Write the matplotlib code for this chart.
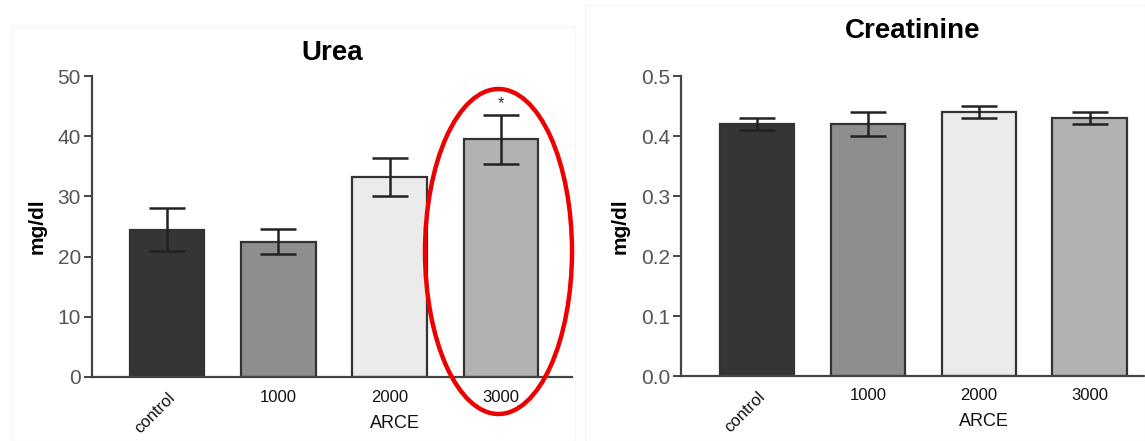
import matplotlib
matplotlib.use("Agg")
import matplotlib.pyplot as plt
from matplotlib.patches import Ellipse, Rectangle
import matplotlib.transforms as mtransforms

plt.rcParams['font.family'] = ['Liberation Sans', 'DejaVu Sans']

categories = ["control", "1000", "2000", "3000"]
group_label = "ARCE"
bar_colors = ["#353535", "#8e8e8e", "#ebebeb", "#b2b2b2"]

urea_mean = [24.5, 22.5, 33.2, 39.5]
urea_err = [3.5, 2.1, 3.1, 4.1]
urea_ticks = [0, 10, 20, 30, 40, 50]
urea_sig = ["", "", "", "*"]

creat_mean = [0.42, 0.42, 0.44, 0.43]
creat_err = [0.01, 0.02, 0.01, 0.01]
creat_ticks = [0.0, 0.1, 0.2, 0.3, 0.4, 0.5]

W, H = 1145, 441
fig = plt.figure(figsize=(W / 100, H / 100), dpi=100)

# faint panel frames
fig.add_artist(Rectangle((12 / W, 0), (575 - 12) / W, (H - 27) / H, transform=fig.transFigure,
                         fill=False, edgecolor="#f5f5f5", lw=1.0))
fig.add_artist(Rectangle((585 / W, 0), (W - 585) / W, (H - 5) / H, transform=fig.transFigure,
                         fill=False, edgecolor="#f5f5f5", lw=1.0))

def panel(rect, means, errs, ticks, ylim, title, title_y, xlim, fmt, sig=None):
    ax = fig.add_axes(rect)
    x = list(range(len(categories)))
    ax.bar(x, means, width=0.67, color=bar_colors, edgecolor="#333333", linewidth=1.6, zorder=2)
    ax.errorbar(x, means, yerr=errs, fmt="none", ecolor="#222222", elinewidth=1.8,
                capsize=13, capthick=1.8, zorder=3)
    ax.set_xlim(*xlim)
    ax.set_ylim(*ylim)
    ax.set_yticks(ticks)
    ax.set_yticklabels([fmt.format(t) for t in ticks])
    ax.set_xticks(x)
    ax.set_xticklabels(categories)
    for spine in ["top", "right"]:
        ax.spines[spine].set_visible(False)
    for spine in ["left", "bottom"]:
        ax.spines[spine].set_color("#444444")
        ax.spines[spine].set_linewidth(1.6)
    ax.tick_params(axis="y", length=6, width=1.4, color="#444444", labelsize=15,
                   labelcolor="#555555", pad=2)
    ax.tick_params(axis="x", length=0, labelsize=12, labelcolor="#111111", pad=9)
    lbl = ax.get_xticklabels()[0]
    lbl.set_rotation(45)
    lbl.set_ha("right")
    lbl.set_va("top")
    lbl.set_rotation_mode("anchor")
    ax.set_ylabel("mg/dl", fontsize=15, fontweight="bold", labelpad=8)
    ax.set_title(title, fontsize=20, fontweight="bold", y=title_y)
    trans = mtransforms.blended_transform_factory(ax.transData, ax.transAxes)
    ax.text(2.05, -0.125, group_label, transform=trans, ha="center", va="top",
            fontsize=13, color="#111111")
    if sig:
        for xi, m, e, s in zip(x, means, errs, sig):
            if s:
                ax.text(xi, m + e + 0.6, s, ha="center", va="bottom", fontsize=12, color="#333333")
    return ax

ax1 = panel([92 / W, (H - 377) / H, 480 / W, 301 / H], urea_mean, urea_err, urea_ticks,
            (0, 50), "Urea", 1.025, (-0.674, 3.64), "{:g}", urea_sig)
ax2 = panel([681 / W, (H - 376) / H, (W - 681) / W, 300 / H], creat_mean, creat_err, creat_ticks,
            (0, 0.5), "Creatinine", 1.10, (-0.685, 3.5), "{:.1f}")

# red ellipse highlight around 3000 bar of Urea
fig.add_artist(Ellipse(((425 + 572) / 2 / W, 1 - (89 + 414) / 2 / H), 147 / W, 325 / H,
                       transform=fig.transFigure, fill=False, edgecolor="#ee0000", lw=3.2))

fig.savefig("out.png", dpi=100)
